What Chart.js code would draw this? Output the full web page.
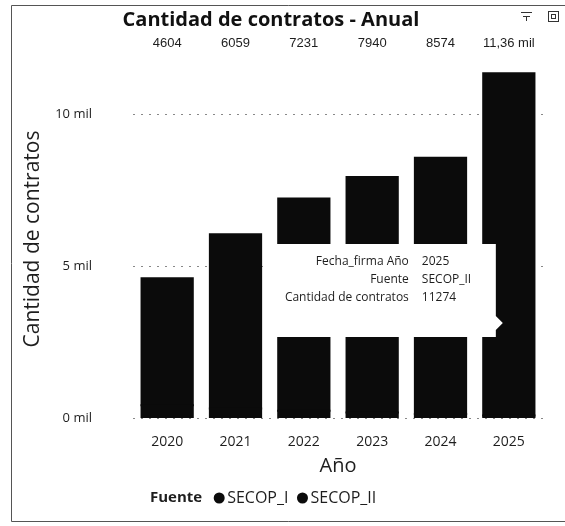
<!DOCTYPE html>
<html lang="es">
<head>
<meta charset="UTF-8">
<title>Cantidad de contratos - Anual</title>
<style>
  html, body { margin: 0; padding: 0; background: #fff; }
</style>
</head>
<body>
<canvas id="contratos" width="565" height="526"></canvas>

<script src="https://cdn.jsdelivr.net/npm/chart.js@4.4.1/dist/chart.umd.min.js"></script>
<script>
// data (totals are printed above the bars)
const years = ["2020", "2021", "2022", "2023", "2024", "2025"];
const secop1 = [420, 310, 240, 180, 130, 86];
const secop2 = [4184, 5749, 6991, 7760, 8444, 11274];
const yTicks = [0, 5000, 10000];
const hoverIndex = 5; // tooltip shown on 2025 / SECOP_II

const sans = "'Open Sans', 'Noto Sans', sans-serif";
const ink = "#1e1e1e";

function fmtTotal(t) {
    return t >= 10000 ? (t / 1000).toFixed(2).replace(".", ",") + " mil" : String(t);
}

const extras = {
    id: "extras",
    afterDatasetsDraw(chart) {
        const { ctx, chartArea, scales } = chart;
        ctx.save();

        // totals row
        ctx.font = "13px 'Liberation Sans', Arial, sans-serif";
        ctx.fillStyle = ink;
        ctx.textAlign = "center";
        ctx.textBaseline = "middle";
        years.forEach((y, i) => {
            ctx.fillText(fmtTotal(secop1[i] + secop2[i]), scales.x.getPixelForValue(i), chartArea.top - 17);
        });

        // tooltip box
        const bar = chart.getDatasetMeta(1).data[hoverIndex];
        const tipX = bar.x - 6, tipY = chartArea.bottom - 95;
        const right = tipX - 7, left = right - 227, top = tipY - 79, bottom = tipY + 14;
        ctx.fillStyle = "#fff";
        ctx.beginPath();
        ctx.moveTo(left, top);
        ctx.lineTo(right, top);
        ctx.lineTo(right, tipY - 7);
        ctx.lineTo(tipX, tipY);
        ctx.lineTo(right, tipY + 7);
        ctx.lineTo(right, bottom);
        ctx.lineTo(left, bottom);
        ctx.closePath();
        ctx.fill();

        const rows = [
            ["Fecha_firma Año", years[hoverIndex]],
            ["Fuente", chart.data.datasets[1].label],
            ["Cantidad de contratos", String(secop2[hoverIndex])],
        ];
        ctx.font = "12px " + sans;
        ctx.fillStyle = ink;
        rows.forEach((r, k) => {
            const yy = top + 18 + k * 18;
            ctx.textAlign = "right";
            ctx.fillText(r[0], left + 140, yy);
            ctx.textAlign = "left";
            ctx.fillText(r[1], left + 153, yy);
        });
        ctx.restore();
    },
    afterDraw(chart) {
        const { ctx } = chart;
        ctx.save();

        // title
        ctx.font = "bold 20px " + sans;
        ctx.fillStyle = "#111";
        ctx.textAlign = "center";
        ctx.textBaseline = "middle";
        ctx.fillText("Cantidad de contratos - Anual", 271, 20);

        // visual frame
        ctx.strokeStyle = "#555";
        ctx.lineWidth = 1;
        ctx.beginPath();
        ctx.moveTo(565, 5.5); ctx.lineTo(11.5, 5.5); ctx.lineTo(11.5, 521.5); ctx.lineTo(565, 521.5);
        ctx.stroke();

        // header icons
        ctx.strokeStyle = "#333";
        ctx.beginPath();
        ctx.moveTo(521, 12.5); ctx.lineTo(532, 12.5);
        ctx.moveTo(523, 16.5); ctx.lineTo(530, 16.5);
        ctx.moveTo(526.5, 17); ctx.lineTo(526.5, 21);
        ctx.stroke();
        ctx.strokeRect(548.5, 11.5, 10, 10);
        ctx.strokeRect(551.5, 14.5, 4, 4);

        // legend
        ctx.textAlign = "left";
        let x = 150;
        const ly = 498;
        ctx.font = "bold 15px " + sans;
        ctx.fillStyle = ink;
        ctx.fillText("Fuente", x, ly);
        x += ctx.measureText("Fuente").width + 12;
        ctx.font = "16px " + sans;
        chart.data.datasets.forEach(ds => {
            ctx.fillStyle = ds.backgroundColor;
            ctx.beginPath();
            ctx.arc(x + 5, ly, 5.5, 0, Math.PI * 2);
            ctx.fill();
            x += 13;
            ctx.fillStyle = ink;
            ctx.fillText(ds.label, x, ly);
            x += ctx.measureText(ds.label).width + 9;
        });
        ctx.restore();
    }
};

new Chart(document.getElementById("contratos"), {
    type: "bar",
    data: {
        labels: years,
        datasets: [
            { label: "SECOP_I", data: secop1, backgroundColor: "#0b0b0b", stack: "f" },
            { label: "SECOP_II", data: secop2, backgroundColor: "#0b0b0b", stack: "f" },
        ],
    },
    options: {
        responsive: false,
        animation: false,
        layout: { padding: { top: 60, right: 22, bottom: 48, left: 0 } },
        plugins: {
            legend: { display: false },
            tooltip: { enabled: false },
        },
        datasets: { bar: { categoryPercentage: 1, barPercentage: 0.75, inflateAmount: 1 } },
        scales: {
            x: {
                stacked: true,
                grid: { display: false },
                border: { display: false },
                ticks: { font: { family: sans, size: 14 }, color: ink, padding: 8 },
                title: { display: true, text: "Año", font: { family: sans, size: 20 }, color: ink, padding: 0 },
                afterFit: s => { s.height = 60; },
            },
            y: {
                stacked: true,
                min: 0,
                max: 11800,
                afterBuildTicks: s => { s.ticks = yTicks.map(v => ({ value: v })); },
                grid: { color: "#888", drawTicks: false },
                border: { display: false, dash: [2, 6] },
                ticks: { callback: v => v / 1000 + " mil", font: { family: sans, size: 13 }, color: ink, padding: 41 },
                title: { display: true, text: "Cantidad de contratos", font: { family: sans, size: 21 }, color: ink, padding: { top: 20, bottom: 0 } },
                afterFit: s => { s.width = 133; },
            },
        },
    },
    plugins: [extras],
});
</script>
</body>
</html>
